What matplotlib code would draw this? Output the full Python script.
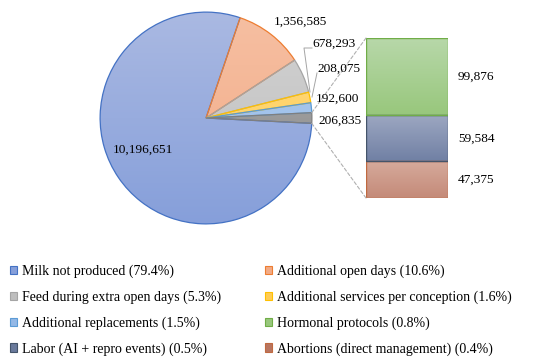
import numpy as np
import matplotlib
matplotlib.use("Agg")
import matplotlib.pyplot as plt
from matplotlib.colors import LinearSegmentedColormap
from matplotlib.patches import ConnectionPatch, Patch

plt.rcParams['font.family'] = ['Liberation Serif', 'DejaVu Serif']

# ---- data ----
pie_labels = ["Milk not produced (79.4%)", "Additional open days (10.6%)",
              "Feed during extra open days (5.3%)", "Additional services per conception (1.6%)",
              "Additional replacements (1.5%)", "Other"]
pie_values = [10196651, 1356585, 678293, 208075, 192600, 206835]
bar_labels = ["Abortions (direct management) (0.4%)", "Labor (AI + repro events) (0.5%)",
              "Hormonal protocols (0.8%)"]
bar_values = [47375, 59584, 99876]

# ---- styles ----
pie_top = ["#aab9e2", "#f6bfa2", "#d2d2d2", "#ffdb80", "#b0cdf0", "#a8a8a8"]
pie_bot = ["#869fda", "#f2ab86", "#bebebe", "#ffcc55", "#94b8e6", "#8c8c8c"]
pie_edge = ["#4472c4", "#ed7d31", "#a5a5a5", "#ffc000", "#5b9bd5", "#7f7f7f"]
bar_top = ["#d6aa9c", "#9ea8c2", "#b8d8aa"]
bar_bot = ["#c48a78", "#7080a4", "#98c77c"]
bar_edge = ["#c0693f", "#44546a", "#70ad47"]
leg_col = ["#b87560", "#6a7a9c", "#98c77c"]

W, H = 550, 364
fig = plt.figure(figsize=(W / 100, H / 100), dpi=100)

def fx(px):
    return px / W

def fy(py):
    return 1 - py / H

# pie axes: centre (206,118), radius 108 px
cx, cy, r = 206, 118, 108
ax = fig.add_axes([fx(cx - r), fy(cy + r), 2 * r / W, 2 * r / H])
other_frac = pie_values[-1] / sum(pie_values)
wedges, _ = ax.pie(pie_values, startangle=-other_frac * 180, counterclock=False,
                   radius=1, wedgeprops=dict(linewidth=0.9))
grad = np.linspace(0, 1, 256).reshape(-1, 1)
for w, ct, cb, ce in zip(wedges, pie_top, pie_bot, pie_edge):
    cmap = LinearSegmentedColormap.from_list("g", [ct, cb])
    im = ax.imshow(grad, extent=(-1, 1, -1, 1), origin="upper", cmap=cmap, aspect="auto", zorder=1)
    im.set_clip_path(w)
    w.set_facecolor("none")
    w.set_edgecolor(ce)
    w.set_zorder(2)
ax.set_xlim(-1.02, 1.02)
ax.set_ylim(-1.02, 1.02)
ax.set_aspect("equal")
ax.axis("off")

# bar axes: x 366..448, y 38..198
bx0, bx1, by0, by1 = 366, 448, 38, 198
ax2 = fig.add_axes([fx(bx0), fy(by1), (bx1 - bx0) / W, (by1 - by0) / H])
total_bar = sum(bar_values)
bottom = 0
for v, ct, cb, ce in zip(bar_values, bar_top, bar_bot, bar_edge):
    rect = ax2.bar(0, v, width=1, bottom=bottom, color="none", edgecolor=ce, linewidth=1.0, zorder=2)[0]
    cmap = LinearSegmentedColormap.from_list("g", [ct, cb])
    im = ax2.imshow(grad, extent=(-0.5, 0.5, bottom, bottom + v), origin="upper", cmap=cmap,
                    aspect="auto", zorder=1)
    im.set_clip_path(rect)
    bottom += v
ax2.set_xlim(-0.5, 0.5)
ax2.set_ylim(0, total_bar)
ax2.axis("off")

# connectors
ow = wedges[-1]
for ang, yb in [(ow.theta2, total_bar), (ow.theta1, 0)]:
    xa, ya = np.cos(np.radians(ang)), np.sin(np.radians(ang))
    con = ConnectionPatch(xyA=(-0.5, yb), coordsA=ax2.transData, xyB=(xa, ya), coordsB=ax.transData,
                          color="#b0b0b0", linewidth=0.8, linestyle=(0, (3, 2)))
    fig.add_artist(con)

fs = 9.6
def fmt(v):
    return f"{v:,}"

# pie labels
fig.text(fx(143), fy(150), fmt(pie_values[0]), ha="center", va="center", fontsize=fs)
fig.text(fx(300), fy(22), fmt(pie_values[1]), ha="center", va="center", fontsize=fs)
fig.text(fx(334), fy(44), fmt(pie_values[2]), ha="center", va="center", fontsize=fs)
fig.text(fx(339), fy(69), fmt(pie_values[3]), ha="center", va="center", fontsize=fs)
fig.text(fx(337), fy(99), fmt(pie_values[4]), ha="center", va="center", fontsize=fs)
fig.text(fx(340), fy(121), fmt(pie_values[5]), ha="center", va="center", fontsize=fs)

# leader lines
lc = "#a5a5a5"
fig.add_artist(plt.Line2D([fx(312), fx(304), fx(310)], [fy(48), fy(48), fy(92)], color=lc, lw=0.7))
fig.add_artist(plt.Line2D([fx(317), fx(312)], [fy(73), fy(97)], color=lc, lw=0.7))

# bar labels
bottom = 0
for v in bar_values:
    ymid = bottom + v / 2
    ax2.text(0.62, ymid, fmt(v), ha="left", va="center", fontsize=fs, clip_on=False)
    bottom += v

# legend
handles = {}
for lab, c, e in zip(pie_labels[:-1], pie_bot, pie_edge):
    handles[lab] = Patch(facecolor=c, edgecolor=e, linewidth=0.8)
for lab, c, e in zip(bar_labels, leg_col, bar_edge):
    handles[lab] = Patch(facecolor=c, edgecolor=e, linewidth=0.8)
order = [pie_labels[0], pie_labels[2], pie_labels[4], bar_labels[1],
         pie_labels[1], pie_labels[3], bar_labels[2], bar_labels[0]]
leg = fig.legend([handles[k] for k in order], order, ncol=2, loc="upper left",
                 bbox_to_anchor=(fx(10), fy(265)), frameon=False, fontsize=10,
                 handlelength=0.52, handleheight=0.52, handletextpad=0.32,
                 labelspacing=0.88, columnspacing=3.2, borderaxespad=0, borderpad=0)

fig.savefig("out.png", dpi=100)
